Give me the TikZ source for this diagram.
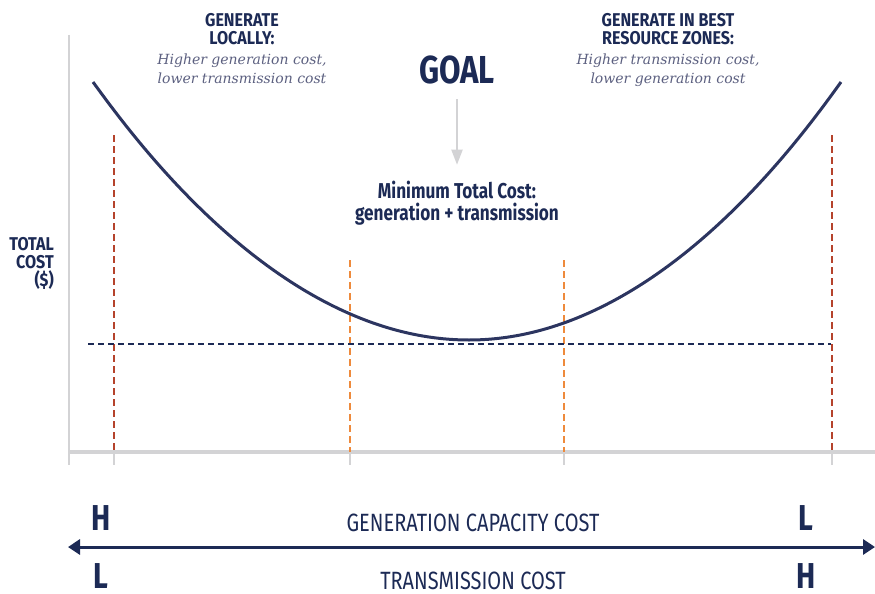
\documentclass[tikz,border=0pt]{standalone}
\usepackage{fontspec}
\setmainfont{DejaVu Serif}
\newfontfamily\condfont[FakeStretch=0.8]{Fira Sans}
\newfontfamily\headfont[FakeStretch=0.87]{Fira Sans}
\usetikzlibrary{arrows, arrows.meta, positioning}
\definecolor{navy}{HTML}{1C2A55}
\definecolor{curvenavy}{HTML}{2C3560}
\definecolor{rust}{HTML}{B5432C}
\definecolor{tangerine}{HTML}{EE8A3C}
\definecolor{axisgray}{HTML}{D3D3D5}
\definecolor{slate}{HTML}{5C6080}
\tikzstyle{heading} = [text=navy, font=\headfont\bfseries\fontsize{18.5}{18}\selectfont, align=center, inner sep=0pt]
\tikzstyle{italnote} = [text=slate, font=\itshape\fontsize{14}{19}\selectfont, align=center, inner sep=0pt]
\tikzstyle{goaltitle} = [text=navy, font=\condfont\bfseries\fontsize{39}{40}\selectfont, inner sep=0pt]
\tikzstyle{mintext} = [text=navy, font=\condfont\bfseries\fontsize{21.5}{22}\selectfont, align=center, inner sep=0pt]
\tikzstyle{hilo} = [text=navy, font=\condfont\bfseries\fontsize{36}{36}\selectfont, inner sep=0pt, anchor=base, text depth=0pt]
\tikzstyle{axislabel} = [text=navy, font=\condfont\fontsize{25}{25}\selectfont, inner sep=0pt, anchor=base, text depth=0pt]
\tikzstyle{cutline} = [line width=2pt, dash pattern=on 7pt off 4pt]

\begin{document}
\begin{tikzpicture}[x=1pt, y=-1pt]
	\useasboundingbox (0,0) rectangle (875,594);
	% axes
	\draw[axisgray, line width=2pt] (69,35) -- (69,465);
	\foreach \x in {114,350,564,832}
		\draw[axisgray, line width=1.5pt] (\x,452) -- (\x,465);
	\draw[axisgray, line width=4.5pt] (68,452) -- (875,452);
	% cut lines
	\draw[cutline, rust] (114,135) -- (114,452);
	\draw[cutline, rust] (832,135) -- (832,452);
	\draw[cutline, tangerine] (350,260) -- (350,452);
	\draw[cutline, tangerine] (564,260) -- (564,452);
	\draw[navy, line width=2.2pt, dash pattern=on 6pt off 4pt] (88,344) -- (831,344);
	% total cost curve
	\draw[curvenavy, line width=3pt] (93,82) parabola bend (469,340) (841,82);
	% labels
	\node[heading] (locally) at (242,29) {GENERATE\\LOCALLY:};
	\node[italnote, below=9pt of locally] (locallynote) {Higher generation cost,\\lower transmission cost};
	\node[heading] (zones) at (668,29) {GENERATE IN BEST\\RESOURCE ZONES:};
	\node[italnote, below=9pt of zones] (zonesnote) {Higher transmission cost,\\lower generation cost};
	\node[goaltitle] (goal) at (457,70) {GOAL};
	\node[mintext] (mincost) at (457,203) {Minimum Total Cost:\\generation + transmission};
	\draw[axisgray, line width=2pt, -{Triangle[length=15pt, width=11pt]}, shorten <=15pt, shorten >=16pt] (goal) -- (mincost);
	\node[heading, align=right, anchor=east] (totalcost) at (54,263) {TOTAL\\COST\\(\$)};
	% bottom scale
	\coordinate (arrL) at (68,547);
	\coordinate (arrR) at (875,547);
	\draw[navy, line width=3pt, {Triangle[length=12pt, width=15pt]}-{Triangle[length=12pt, width=15pt]}] (arrL) -- (arrR);
	\node[hilo] (genH) at (101,530) {H};
	\node[hilo] (genL) at (806,530) {L};
	\node[hilo] (transL) at (101,588) {L};
	\node[hilo] (transH) at (806,588) {H};
	\node[axislabel] (gencost) at (473,531) {GENERATION CAPACITY COST};
	\node[axislabel] (transcost) at (473,589) {TRANSMISSION COST};
\end{tikzpicture}
\end{document}
